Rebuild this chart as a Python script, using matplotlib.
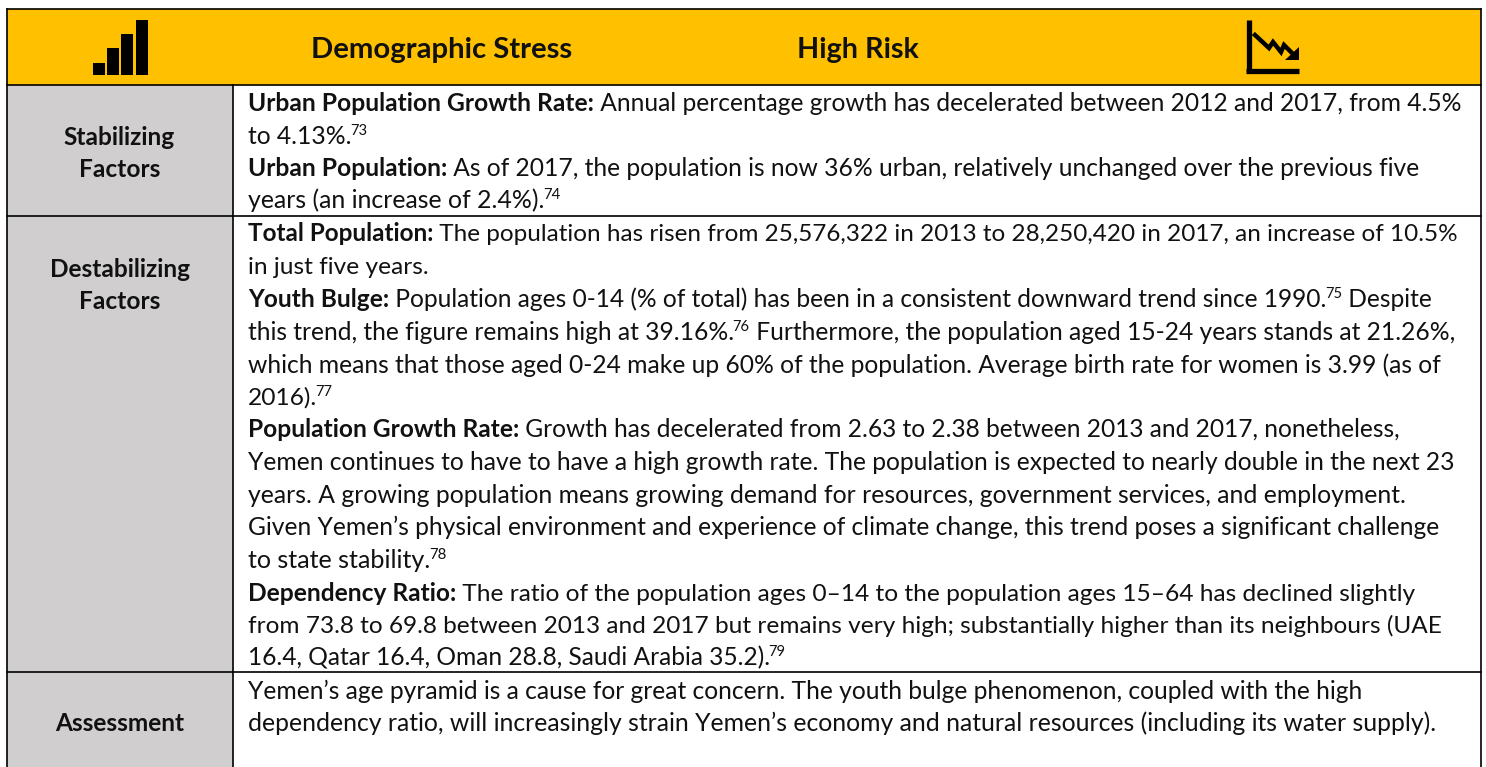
"""Demographic stress table: header band, grey label column, body text with superscripts."""
import re
import matplotlib
matplotlib.use("Agg")
import matplotlib.pyplot as plt
from matplotlib.patches import Polygon, Rectangle

plt.rcParams["font.family"] = ["Lato", "DejaVu Sans"]

HEADER_COLOR = "#FFC000"
LABEL_COLOR = "#D0CECE"
LABEL_SIZE = 17.6
BODY_SIZE = 17.8
BODY_LEFT = 248

header_titles = ["Demographic Stress", "High Risk"]
header_x = [311, 797]
header_sizes = [21.1, 20.7]

row_labels = [["Stabilizing", "Factors"], ["Destabilizing", "Factors"], ["Assessment"]]
row_label_baselines = [[145, 177], [277, 309], [731]]
row_bottoms = [216, 672]

# **bold**, ^superscript^
body_lines = [
    "**Urban Population Growth Rate:** Annual percentage growth has decelerated between 2012 and 2017, from 4.5%",
    "to 4.13%.^73^",
    "**Urban Population:** As of 2017, the population is now 36% urban, relatively unchanged over the previous five",
    "years (an increase of 2.4%).^74^",
    "**Total Population:** The population has risen from 25,576,322 in 2013 to 28,250,420 in 2017, an increase of 10.5%",
    "in just five years.",
    "**Youth Bulge:** Population ages 0-14 (% of total) has been in a consistent downward trend since 1990.^75^ Despite",
    "this trend, the figure remains high at 39.16%.^76^ Furthermore, the population aged 15-24 years stands at 21.26%,",
    "which means that those aged 0-24 make up 60% of the population. Average birth rate for women is 3.99 (as of",
    "2016).^77^",
    "**Population Growth Rate:** Growth has decelerated from 2.63 to 2.38 between 2013 and 2017, nonetheless,",
    "Yemen continues to have to have a high growth rate. The population is expected to nearly double in the next 23",
    "years. A growing population means growing demand for resources, government services, and employment.",
    "Given Yemen’s physical environment and experience of climate change, this trend poses a significant challenge",
    "to state stability.^78^",
    "**Dependency Ratio:** The ratio of the population ages 0–14 to the population ages 15–64 has declined slightly",
    "from 73.8 to 69.8 between 2013 and 2017 but remains very high; substantially higher than its neighbours (UAE",
    "16.4, Qatar 16.4, Oman 28.8, Saudi Arabia 35.2).^79^",
    "Yemen’s age pyramid is a cause for great concern. The youth bulge phenomenon, coupled with the high",
    "dependency ratio, will increasingly strain Yemen’s economy and natural resources (including its water supply).",
]
body_baselines = [111, 144, 176, 208, 241, 274, 307, 340, 373, 405,
                  437, 470, 503, 535, 568, 601, 633, 665, 699, 731]
# where each line ends in the reference, Calibri and Lato run a little differently
body_ends = [1464, 367, 1422, 562, 1462, 428, 1436, 1461, 1443, 333,
             1404, 1458, 1408, 1446, 447, 1416, 1445, 788, 1370, 1439]

fig = plt.figure(figsize=(14.86, 7.67), dpi=100)
ax = fig.add_axes([0, 0, 1, 1])
ax.set_xlim(0, 1486)
ax.set_ylim(767, 0)
ax.axis("off")
renderer = fig.canvas.get_renderer()

# bands
ax.add_patch(Rectangle((6.5, 8.5), 1474, 76.5, fc=HEADER_COLOR, ec="none"))
ax.add_patch(Rectangle((6.5, 85), 226, 682, fc=LABEL_COLOR, ec="none"))

# rules
ax.plot([6.5, 6.5], [8.5, 767], color="k", lw=1.2)
ax.plot([1480.5, 1480.5], [8.5, 767], color="k", lw=1.2)
ax.plot([232.5, 232.5], [85, 767], color="k", lw=1.2)
for y in [8.5, 85] + row_bottoms:
    ax.plot([6.5, 1480.5], [y, y], color="k", lw=1.2)

# signal bars icon
for x0, top in zip([93, 107, 121, 136], [63, 48, 34, 20]):
    ax.add_patch(Rectangle((x0, top), 12, 74.5 - top, fc="k", ec="none"))

# falling trend icon
ax.plot([1248.5, 1248.5], [20, 70.5], color="k", lw=3.8, solid_capstyle="butt")
ax.plot([1246, 1299], [70.5, 70.5], color="k", lw=3.8, solid_capstyle="butt")
ax.plot([1255, 1269, 1273, 1281, 1284, 1295], [35, 48, 42, 52, 45, 56],
        color="k", lw=3.2, solid_joinstyle="miter")
ax.add_patch(Polygon([(1299, 47), (1299, 60), (1285, 60)], fc="k", ec="none"))

for title, x, size in zip(header_titles, header_x, header_sizes):
    ax.text(x, 58, title, fontsize=size, fontweight="bold", color="#111",
            ha="left", va="baseline")

for labels, baselines in zip(row_labels, row_label_baselines):
    for label, y in zip(labels, baselines):
        ax.text(119.5, y, label, fontsize=LABEL_SIZE, fontweight="bold",
                color="#111", ha="center", va="baseline")


def text_width(s, **kw):
    # sentinel bars keep leading and trailing spaces in the measurement
    t = ax.text(0, 0, "|" + s + "|", **kw)
    full = t.get_window_extent(renderer).width
    t.set_text("||")
    bars = t.get_window_extent(renderer).width
    t.remove()
    return full - bars


def split_runs(line, size):
    runs = []
    for part in re.split(r"(\*\*.*?\*\*|\^.*?\^)", line):
        if not part:
            continue
        kw = dict(fontsize=size, color="#111")
        dy, nudge = 0, 0
        if part.startswith("**"):
            part = part[2:-2]
            kw["fontweight"] = "bold"
        elif part.startswith("^"):
            part = part[1:-1]
            kw["fontsize"] = size * 0.6
            dy, nudge = -9, -1.5
        runs.append((part, kw, dy, nudge))
    return runs


def draw_line(y, line, end):
    natural = sum(text_width(p, **kw) + n for p, kw, _, n in split_runs(line, BODY_SIZE))
    size = BODY_SIZE * (end - BODY_LEFT) / natural
    x = BODY_LEFT
    for part, kw, dy, nudge in split_runs(line, size):
        x += nudge
        ax.text(x, y + dy, part, ha="left", va="baseline", **kw)
        x += text_width(part, **kw)


for line, y, end in zip(body_lines, body_baselines, body_ends):
    draw_line(y, line, end)

fig.savefig("out.png", dpi=100, facecolor="white")
